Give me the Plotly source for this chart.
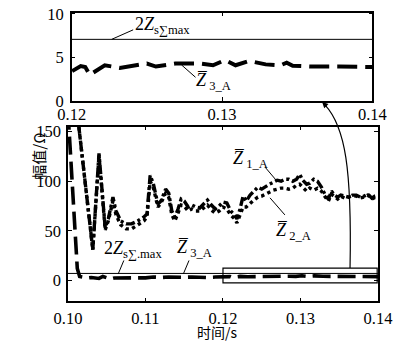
import plotly.graph_objects as go

# ---------------- data ----------------
t12 = [0.1012, 0.1014, 0.1032, 0.1040, 0.1048, 0.1052, 0.1058, 0.1062, 0.1068, 0.1075,
       0.1082, 0.1090, 0.1098, 0.1102, 0.1106, 0.1110, 0.1116, 0.1120, 0.1126, 0.1130,
       0.1134, 0.1138, 0.1142, 0.1146, 0.1150, 0.1155, 0.1160, 0.1165, 0.1170, 0.1175,
       0.1180, 0.1185, 0.1190, 0.1195, 0.1200, 0.1205, 0.1210, 0.1215, 0.1218, 0.1222,
       0.1226, 0.1230, 0.1235, 0.1240, 0.1245, 0.1250, 0.1255, 0.1260, 0.1265, 0.1270,
       0.1275, 0.1280, 0.1285, 0.1290, 0.1295, 0.1299, 0.1303, 0.1308, 0.1312, 0.1317,
       0.1322, 0.1327, 0.1332, 0.1336, 0.1340, 0.1344, 0.1348, 0.1352, 0.1357, 0.1362,
       0.1367, 0.1372, 0.1377, 0.1382, 0.1387, 0.1392, 0.1396, 0.1400]
z1 = [175, 155, 31, 128, 53, 62, 84, 70, 60, 57,
      57, 60, 64, 67, 106, 98, 77, 80, 92, 88,
      70, 64, 72, 82, 80, 74, 76, 74, 73, 77,
      81, 76, 72, 75, 79, 78, 70, 66, 62, 72,
      85, 80, 86, 90, 94, 92, 95, 97, 99, 101,
      100, 102, 102, 100, 102, 107, 101, 97, 98, 102,
      100, 94, 86, 82, 90, 86, 84, 86, 85, 84,
      86, 86, 84, 85, 87, 83, 85, 86]
z2 = [175, 155, 31, 126, 51, 60, 80, 66, 56, 52,
      52, 56, 60, 64, 100, 94, 74, 78, 88, 84,
      66, 60, 68, 76, 75, 70, 72, 70, 70, 73,
      76, 71, 68, 70, 74, 72, 66, 62, 58, 66,
      74, 74, 78, 81, 84, 85, 87, 89, 91, 92,
      93, 93, 92, 93, 96, 97, 94, 90, 93, 91,
      93, 90, 84, 80, 87, 84, 82, 85, 83, 84,
      85, 85, 83, 84, 86, 82, 84, 85]
t3 = [0.1000, 0.1005, 0.1009, 0.1012, 0.1015, 0.1020, 0.1025, 0.1030, 0.1040, 0.1045,
      0.1050, 0.1055, 0.1060, 0.1070, 0.1080, 0.1090, 0.1100, 0.1110, 0.1120, 0.1130,
      0.1140, 0.1150, 0.1160, 0.1170, 0.1180, 0.1190, 0.1200, 0.1206, 0.1209, 0.1212,
      0.1222, 0.1232, 0.1244, 0.1250, 0.1256, 0.1269, 0.1285, 0.1294, 0.1302, 0.1309,
      0.1318, 0.1329, 0.1339, 0.1343, 0.1347, 0.1360, 0.1378, 0.1390, 0.1401]
z3 = [170, 100, 40, 12, 4, 3, 2.5, 3, 2, 4,
      3, 1.5, 2.5, 2.5, 2.5, 2.8, 2.6, 3.5, 3, 3.5,
      3, 3.2, 3.5, 3.0, 3.0, 3.4, 3.4, 4.0, 3.9, 3.0,
      4.1, 3.8, 4.1, 4.3, 3.95, 4.3, 4.3, 4.1, 4.7, 4.1,
      4.6, 4.2, 4.1, 4.4, 4.05, 3.95, 3.95, 3.9, 3.9]
zs_max = 7.07
top_xticks = [0.12, 0.13, 0.14]
top_yticks = [0, 5, 10]
bot_xticks = [0.10, 0.11, 0.12, 0.13, 0.14]
bot_yticks = [0, 50, 100, 150]

W, H = 405, 354
def px(x): return x / W
def py(y): return 1 - y / H

SERIF = "Liberation Serif"
fig = go.Figure()

# bottom plot (x, y)
fig.add_trace(go.Scatter(x=t12, y=z1, mode="lines", line=dict(color="black", width=3.4, dash="9px,3px,3px,3px"),
                         xaxis="x", yaxis="y", showlegend=False))
fig.add_trace(go.Scatter(x=t12, y=z2, mode="lines", line=dict(color="black", width=3.4, dash="dot"),
                         xaxis="x", yaxis="y", showlegend=False))
fig.add_trace(go.Scatter(x=t3, y=z3, mode="lines", line=dict(color="black", width=3.6, dash="18px,7px"),
                         xaxis="x", yaxis="y", showlegend=False))
fig.add_trace(go.Scatter(x=[0.10, 0.14], y=[zs_max, zs_max], mode="lines", line=dict(color="black", width=1),
                         xaxis="x", yaxis="y", showlegend=False))
# top plot (x2, y2)
fig.add_trace(go.Scatter(x=t3, y=z3, mode="lines", line=dict(color="black", width=4, dash="20px,8px"),
                         xaxis="x2", yaxis="y2", showlegend=False))
fig.add_trace(go.Scatter(x=[0.12, 0.14], y=[zs_max, zs_max], mode="lines", line=dict(color="black", width=1),
                         xaxis="x2", yaxis="y2", showlegend=False))

axis_common = dict(showline=True, linecolor="black", linewidth=1.5, mirror="ticks", ticks="inside",
                   ticklen=4, tickcolor="black", showgrid=False, zeroline=False,
                   tickfont=dict(family=SERIF, size=16.5, color="black"))

fig.update_layout(
    width=W, height=H, margin=dict(l=0, r=0, t=0, b=0),
    paper_bgcolor="white", plot_bgcolor="white",
    xaxis=dict(domain=[px(58), px(391)], range=[0.10, 0.14], tickvals=bot_xticks,
               ticktext=["0.10", "0.11", "0.12", "0.13", "0.14"], anchor="y", ticklabelstandoff=1,
               **axis_common),
    yaxis=dict(domain=[py(309), py(125)], range=[-21, 155], tickvals=bot_yticks, anchor="x",
               ticklabelstandoff=2, **axis_common),
    xaxis2=dict(domain=[px(62), px(385)], range=[0.12, 0.14], tickvals=top_xticks,
                ticktext=["0.12", "0.13", "0.14"], anchor="y2", ticklabelstandoff=-3, **axis_common),
    yaxis2=dict(domain=[py(98), py(5)], range=[0, 10.12], tickvals=top_yticks, anchor="x2",
                ticklabelstandoff=3, **axis_common),
)

# highlight box in bottom plot
fig.add_shape(type="rect", xref="x", yref="y", x0=0.12, x1=0.1399, y0=-2.5, y1=12.5,
              line=dict(color="black", width=1.2))
# connector curve
p0 = (361, 274); c1 = (363, 170); c2 = (356, 125); p3 = (334, 102)
path = "M {},{} C {},{} {},{} {},{}".format(px(p0[0]), py(p0[1]), px(c1[0]), py(c1[1]),
                                            px(c2[0]), py(c2[1]), px(p3[0]), py(p3[1]))
fig.add_shape(type="path", xref="paper", yref="paper", path=path, line=dict(color="black", width=1.2))
fig.add_annotation(xref="paper", yref="paper", x=px(331), y=py(99), ax=6, ay=6, axref="pixel", ayref="pixel",
                   text="", showarrow=True, arrowhead=2, arrowsize=1, arrowwidth=1.2, arrowcolor="black")

def leader(x0, y0, x1, y1):
    fig.add_shape(type="line", xref="paper", yref="paper", x0=px(x0), y0=py(y0), x1=px(x1), y1=py(y1),
                  line=dict(color="black", width=1))

def label(x, y, text, size=18):
    fig.add_annotation(xref="paper", yref="paper", x=px(x), y=py(y), text=text, showarrow=False,
                       font=dict(family=SERIF, size=size, color="black"), xanchor="center", yanchor="middle")

ZB = "<i>Z\u0305</i>"
# top plot labels
label(160, 18, "2<i>Z</i><sub>s∑max</sub>")
leader(105, 33, 128, 23)
label(214, 77, ZB + "<sub> 3_A</sub>")
leader(180, 60, 195, 73)
# bottom plot labels
label(254, 160, ZB + "<sub> 1_A</sub>")
leader(270, 168, 283, 183)
label(300, 235, ZB + "<sub> 2_A</sub>")
leader(291, 218, 275, 200)
label(128, 254, "2<i>Z</i><sub>s∑.max</sub>")
leader(112, 280, 118, 266)
label(194, 253, ZB + "<sub> 3_A</sub>")
leader(182, 280, 188, 266)

# axis titles
fig.add_annotation(xref="paper", yref="paper", x=px(12), y=py(156), text="幅值/Ω", textangle=-90,
                   showarrow=False, font=dict(family="Noto Sans CJK SC", size=15, color="black"))
fig.add_annotation(xref="paper", yref="paper", x=px(218), y=0, text="时间/s", yanchor="bottom",
                   showarrow=False, font=dict(family="Noto Sans CJK SC", size=14, color="black"))

fig.write_html("out.html")
